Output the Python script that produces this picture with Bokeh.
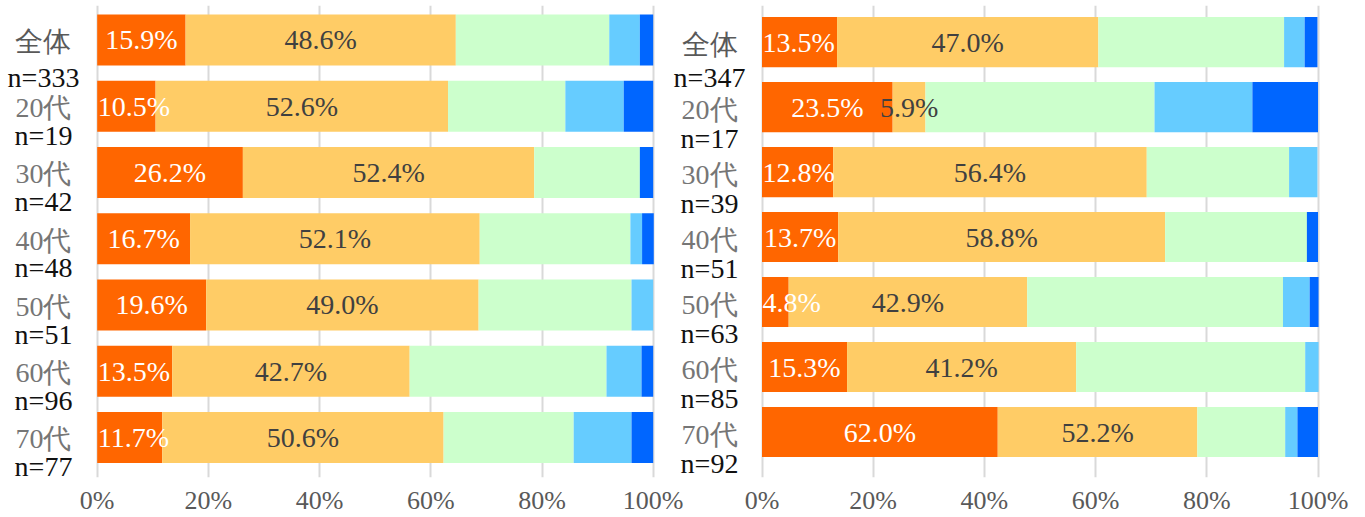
from bokeh.plotting import figure
from bokeh.models import Range1d, FixedTicker, CustomJSTickFormatter, ColumnDataSource, LabelSet
from bokeh.core.properties import value, field
from bokeh.embed import file_html
from bokeh.resources import INLINE

# ---------------- data ----------------
categories = ["全体", "20代", "30代", "40代", "50代", "60代", "70代"]
n_left = [333, 19, 42, 48, 51, 96, 77]
n_right = [347, 17, 39, 51, 63, 85, 92]

# left panel, five segments (percent)
left_s1 = [15.9, 10.5, 26.2, 16.7, 19.6, 13.5, 11.7]
left_s2 = [48.6, 52.6, 52.4, 52.1, 49.0, 42.7, 50.6]
left_s3 = [27.6, 21.1, 19.0, 27.1, 27.5, 35.4, 23.4]
left_s4 = [5.5, 10.5, 0.0, 2.1, 3.9, 6.3, 10.4]
left_s5 = [2.4, 5.3, 2.4, 2.1, 0.0, 2.1, 3.9]
left_lab1 = ["15.9%", "10.5%", "26.2%", "16.7%", "19.6%", "13.5%", "11.7%"]
left_lab2 = ["48.6%", "52.6%", "52.4%", "52.1%", "49.0%", "42.7%", "50.6%"]

# right panel
right_s1 = [13.5, 23.5, 12.8, 13.7, 4.8, 15.3, 42.4]
right_s2 = [47.0, 5.9, 56.4, 58.8, 42.9, 41.2, 35.9]
right_s3 = [33.4, 41.2, 25.6, 25.5, 46.0, 41.2, 15.8]
right_s4 = [3.7, 17.6, 5.1, 0.0, 4.8, 2.4, 2.2]
right_s5 = [2.3, 11.8, 0.0, 2.0, 1.6, 0.0, 3.7]
right_lab1 = ["13.5%", "23.5%", "12.8%", "13.7%", "4.8%", "15.3%", "62.0%"]
right_lab2 = ["47.0%", "5.9%", "56.4%", "58.8%", "42.9%", "41.2%", "52.2%"]

tick_values = [0, 20, 40, 60, 80, 100]

# ---------------- styles / layout ----------------
colors = ["#FF6600", "#FFCC66", "#CCFFCC", "#66CCFF", "#0066FF"]
FONT = "Liberation Serif"
W, H = 1362, 517
TOP, BOTTOM = 5, 39
PPU = 5.56                 # pixels per percent
X0_L = 96.7                # frame pixel of left 0%
X0_R = 761.5               # frame pixel of right 0%
OFF = (X0_R - X0_L) / PPU
FH = H - TOP - BOTTOM
SP_L, T_L = 66.4, -0.0196
SP_R, T_R = 65.13, -0.0635

p = figure(width=W, height=H, output_backend="svg", toolbar_location=None,
           x_range=Range1d(-X0_L / PPU, (W - X0_L) / PPU),
           y_range=Range1d(T_L + FH / SP_L, T_L),
           min_border_left=0, min_border_right=0, min_border_top=TOP,
           min_border_bottom=BOTTOM, y_axis_location=None,
           outline_line_color=None, background_fill_color="white",
           border_fill_color="white")
p.extra_x_ranges = {"r": Range1d(-X0_R / PPU, (W - X0_R) / PPU)}
p.extra_y_ranges = {"r": Range1d(T_R + FH / SP_R, T_R)}

ax = p.xaxis[0]
ax.ticker = FixedTicker(ticks=tick_values + [OFF + t for t in tick_values])
ax.formatter = CustomJSTickFormatter(args=dict(off=OFF), code="""
    const v = tick > 110 ? tick - off : tick;
    return Math.round(v) + '%';
""")
ax.axis_line_color = None
ax.major_tick_line_color = None
ax.minor_tick_line_color = None
ax.major_tick_out = 0
ax.major_tick_in = 0
ax.major_label_standoff = 8
ax.major_label_text_font = FONT
ax.major_label_text_font_size = "26px"
ax.major_label_text_color = "#595959"

p.xgrid.grid_line_color = "#D9D9D9"
p.xgrid.grid_line_width = 2
p.ygrid.visible = False


def panel(series, lab1, lab2, nvals, xr, yr, lab_x, d1, d2_first, d2):
    ys = [i + 0.5 for i in range(len(categories))]
    start = [0.0] * len(categories)
    bounds = []
    for k, s in enumerate(series):
        end = [a + b for a, b in zip(start, s)]
        src = ColumnDataSource(dict(y=ys, left=start, right=end))
        p.hbar(y="y", left="left", right="right", height=0.77, source=src,
               fill_color=colors[k], line_color=None,
               x_range_name=xr, y_range_name=yr)
        bounds.append((start, end))
        start = end

    def seg_text(xs, yv, tv, col, align):
        if not xs:
            return
        src = ColumnDataSource(dict(x=xs, y=yv, t=tv))
        p.text(x="x", y="y", text="t", source=src, text_align=align,
               text_baseline="middle", text_font=value(FONT),
               text_font_size="28px", text_color=col,
               x_range_name=xr, y_range_name=yr)

    # first segment: narrow ones start at the axis, others centred
    st, en = bounds[0]
    narrow = [i for i in range(len(ys)) if en[i] - st[i] < 13.6]
    wide = [i for i in range(len(ys)) if i not in narrow]
    seg_text([(st[i] + en[i]) / 2 for i in wide], [ys[i] for i in wide],
             [lab1[i] for i in wide], "white", "center")
    seg_text([st[i] + 0.1 for i in narrow], [ys[i] for i in narrow],
             [lab1[i] for i in narrow], "white", "left")
    st, en = bounds[1]
    seg_text([(a + b) / 2 for a, b in zip(st, en)], ys, lab2, "#404040", "center")

    # category labels (two lines)
    line1 = ColumnDataSource(dict(
        x=[lab_x] * len(categories), y=[y + d1 for y in ys], t=categories,
        c=["#595959"] + ["#767676"] * (len(categories) - 1)))
    line2 = ColumnDataSource(dict(
        x=[lab_x] * len(categories),
        y=[y + (d2_first if i == 0 else d2) for i, y in enumerate(ys)],
        t=["n=%d" % n for n in nvals]))
    p.add_layout(LabelSet(x="x", y="y", text="t", source=line1,
                          text_align="center", text_baseline="middle",
                          text_font=value(FONT), text_font_size="28px",
                          text_color=field("c"),
                          x_range_name=xr, y_range_name=yr))
    p.add_layout(LabelSet(x="x", y="y", text="t", source=line2,
                          text_align="center", text_baseline="middle",
                          text_font=value(FONT), text_font_size="28px",
                          text_color="#111111",
                          x_range_name=xr, y_range_name=yr))


panel([left_s1, left_s2, left_s3, left_s4, left_s5], left_lab1, left_lab2,
      n_left, "default", "default", -9.66, 0.02, 0.56, 0.44)
panel([right_s1, right_s2, right_s3, right_s4, right_s5], right_lab1, right_lab2,
      n_right, "r", "r", -9.44, 0.03, 0.55, 0.48)

open("out.html", "w").write(file_html(p, INLINE))
